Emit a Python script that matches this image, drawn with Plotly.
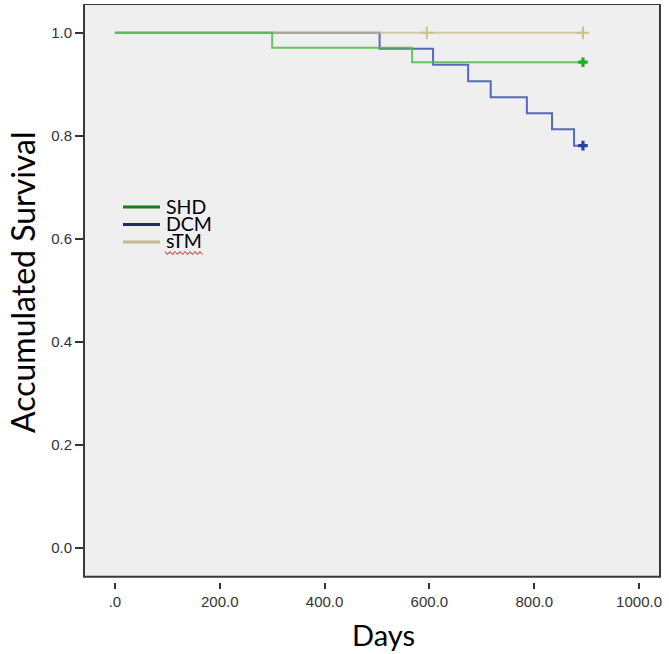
import plotly.graph_objects as go

# ---- data ----
series_names = ["SHD", "DCM", "sTM"]
shd_days = [0, 300, 567, 893]
shd_surv = [1.0, 0.971, 0.943, 0.943]
shd_censor_days = [893]
shd_censor_surv = [0.943]

dcm_days = [0, 505, 607, 674, 717, 786, 834, 876, 893]
dcm_surv = [1.0, 0.969, 0.938, 0.906, 0.875, 0.844, 0.813, 0.781, 0.781]
dcm_censor_days = [893]
dcm_censor_surv = [0.781]

stm_days = [0, 595, 893]
stm_surv = [1.0, 1.0, 1.0]
stm_censor_days = [595, 893]
stm_censor_surv = [1.0, 1.0]

x_tick_vals = [0, 200, 400, 600, 800, 1000]
x_tick_text = [".0", "200.0", "400.0", "600.0", "800.0", "1000.0"]
y_tick_vals = [0.0, 0.2, 0.4, 0.6, 0.8, 1.0]
y_tick_text = ["0.0", "0.2", "0.4", "0.6", "0.8", "1.0"]

# ---- styling ----
W, H = 669, 654
ML, MR, MT, MB = 84, 9, 4, 72
PW, PH = W - ML - MR, H - MT - MB

line_colors = {"SHD": "rgba(80,185,80,0.85)", "DCM": "rgba(70,90,185,0.9)", "sTM": "rgba(200,189,138,0.75)"}
censor_colors = {"SHD": "#1faa2a", "DCM": "#2a3fa5", "sTM": "#cbbf8c"}
legend_colors = {"SHD": "#1c7a22", "DCM": "#1c2a6e", "sTM": "#c4bb8e"}

def px2paper(px, py):
    return (px - ML) / PW, (H - MB - py) / PH

fig = go.Figure()

curves = {
    "DCM": (dcm_days, dcm_surv, dcm_censor_days, dcm_censor_surv),
    "sTM": (stm_days, stm_surv, stm_censor_days, stm_censor_surv),
    "SHD": (shd_days, shd_surv, shd_censor_days, shd_censor_surv),
}
for name in ["DCM", "sTM", "SHD"]:
    d, s, cd, cs = curves[name]
    fig.add_trace(go.Scatter(x=d, y=s, mode="lines", line=dict(color=line_colors[name], width=2, shape="hv"),
                             name=name, showlegend=False, hoverinfo="skip"))
for name in ["DCM", "sTM", "SHD"]:
    d, s, cd, cs = curves[name]
    thin = name == "sTM"
    fig.add_trace(go.Scatter(x=cd, y=cs, mode="markers", showlegend=False, hoverinfo="skip",
                             marker=dict(symbol="cross-thin" if thin else "cross", size=9 if thin else 8,
                                         color=censor_colors[name],
                                         line=dict(width=2 if thin else 0, color=censor_colors[name]))))

y_min, y_max = -0.066, 1.056
frame_bottom = -0.056

shapes = [
    dict(type="rect", xref="paper", yref="y", x0=0, x1=1, y0=frame_bottom, y1=y_max,
         fillcolor="#efefef", line=dict(color="#3a3a3a", width=2), layer="below"),
]

# legend drawn manually (tight spacing as in the reference)
annotations = []
leg_rows_py = [207, 224.5, 242]
for name, py in zip(series_names, leg_rows_py):
    x0, y0 = px2paper(123, py)
    x1, _ = px2paper(160, py)
    shapes.append(dict(type="line", xref="paper", yref="paper", x0=x0, x1=x1, y0=y0, y1=y0,
                       line=dict(color=legend_colors[name], width=3)))
    tx, ty = px2paper(164, py - 1)
    annotations.append(dict(text=name, xref="paper", yref="paper", x=tx, y=ty, xanchor="left", yanchor="middle",
                            showarrow=False, font=dict(family="Lato", size=19.5, color="#000000")))

# red spell-check squiggle under "sTM"
pts = []
sx = 165.0
k = 0
while sx <= 203:
    pts.append(px2paper(sx, 253 + (1.5 if k % 2 else -1.5)))
    sx += 2.5
    k += 1
path = "M " + " L ".join(f"{a:.5f},{b:.5f}" for a, b in pts)
shapes.append(dict(type="path", xref="paper", yref="paper", path=path, line=dict(color="#e02020", width=1)))

ax, ay = px2paper(22, 282)
annotations.append(dict(text="Accumulated Survival", xref="paper", yref="paper", x=ax, y=ay, textangle=-90,
                        xanchor="center", yanchor="middle", showarrow=False,
                        font=dict(family="Lato", size=32, color="#000000")))
dx, dy = px2paper(383, 634)
annotations.append(dict(text="Days", xref="paper", yref="paper", x=dx, y=dy, xanchor="center", yanchor="middle",
                        showarrow=False, font=dict(family="Lato", size=29, color="#000000")))

fig.update_layout(
    width=W, height=H,
    margin=dict(l=ML, r=MR, t=MT, b=MB),
    paper_bgcolor="white", plot_bgcolor="white",
    shapes=shapes, annotations=annotations,
    showlegend=False,
    xaxis=dict(range=[-59, 1040], tickvals=x_tick_vals, ticktext=x_tick_text, showgrid=False, zeroline=False,
               showline=False, ticks="outside", ticklen=6, tickwidth=2, tickcolor="#333333",
               tickfont=dict(family="Liberation Sans", size=15, color="#333333")),
    yaxis=dict(range=[y_min, y_max], tickvals=y_tick_vals, ticktext=y_tick_text, showgrid=False, zeroline=False,
               showline=False, ticks="outside", ticklen=8, tickwidth=2, tickcolor="#333333",
               tickfont=dict(family="Liberation Sans", size=15, color="#333333")),
)

fig.write_html("out.html", config={"displayModeBar": False},
               post_script="document.body.style.margin='0';document.body.style.overflow='hidden';")
